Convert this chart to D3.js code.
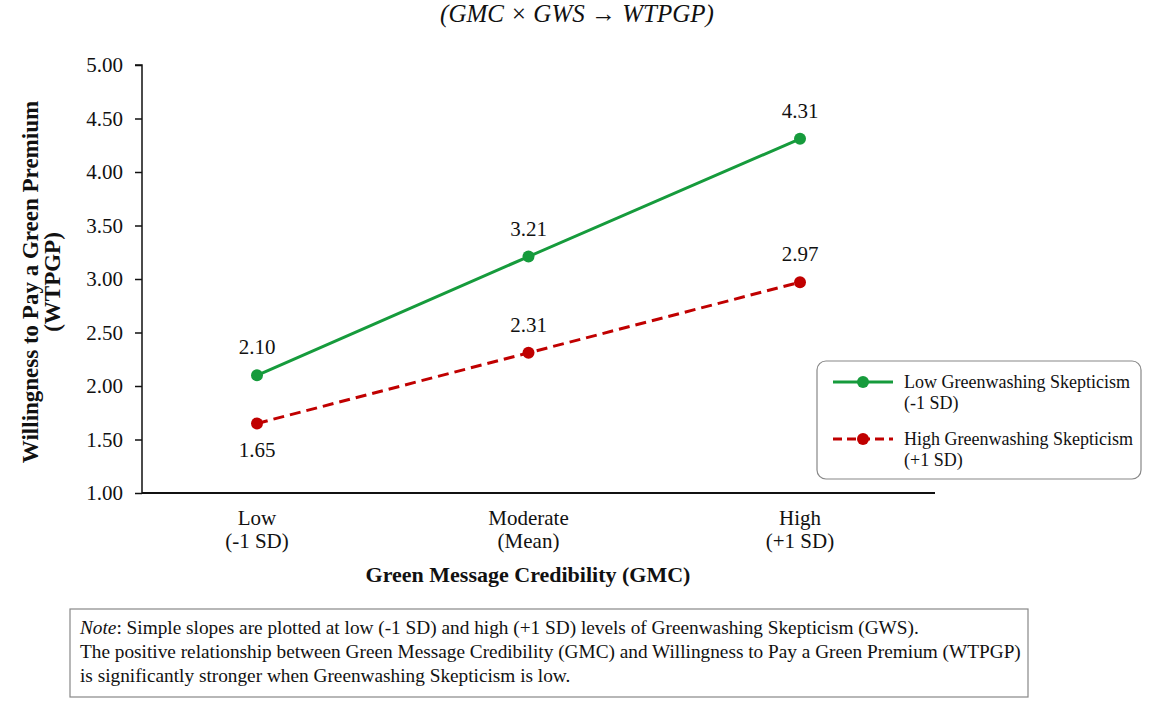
<!DOCTYPE html>
<meta charset="utf-8">
<script src="https://d3js.org/d3.v7.min.js"></script>
<style>
  body { margin: 0; background: #fff; }
  text { font-family: "Liberation Serif", "Times New Roman", serif; fill: #111; }
</style>
<div id="chart"></div>
<script>
  // data
  var categories = ["Low\n(-1 SD)", "Moderate\n(Mean)", "High\n(+1 SD)"];
  var lowGWS = [2.10, 3.21, 4.31];
  var highGWS = [1.65, 2.31, 2.97];
  var yTicks = [1.00, 1.50, 2.00, 2.50, 3.00, 3.50, 4.00, 4.50, 5.00];
  var seriesNames = ["Low Greenwashing Skepticism\n(-1 SD)", "High Greenwashing Skepticism\n(+1 SD)"];

  var W = 1153, H = 720;
  var svg = d3.select("#chart").append("svg").attr("width", W).attr("height", H);

  // plot area
  var plotL = 142, plotR = 935, plotT = 65, plotB = 493;

  var x = d3.scalePoint().domain(d3.range(categories.length)).range([257, 800]);
  var y = d3.scaleLinear().domain([1, 5]).range([plotB, plotT]);

  // title
  svg.append("text")
    .attr("x", 577).attr("y", 22)
    .attr("text-anchor", "middle")
    .style("font-size", "25px").style("font-style", "italic")
    .text("(GMC \u00d7 GWS \u2192 WTPGP)");

  // y axis
  var yAxis = svg.append("g")
    .attr("transform", "translate(" + plotL + ",0)")
    .call(d3.axisLeft(y).tickValues(yTicks).tickFormat(d3.format(".2f")).tickSize(7).tickPadding(12));
  yAxis.selectAll("text").style("font-size", "21px").attr("fill", "#111");
  yAxis.selectAll("line, path").attr("stroke", "#111").attr("stroke-width", 1.5);
  yAxis.select(".domain").attr("d", "M-7," + plotT + "H0V" + plotB);

  // x axis line
  svg.append("line")
    .attr("x1", plotL).attr("x2", plotR)
    .attr("y1", plotB).attr("y2", plotB)
    .attr("stroke", "#111").attr("stroke-width", 1.8);

  // x category labels
  categories.forEach(function(c, i) {
    var t = svg.append("text")
      .attr("x", x(i)).attr("y", 525)
      .attr("text-anchor", "middle")
      .style("font-size", "21px");
    c.split("\n").forEach(function(line, j) {
      t.append("tspan").attr("x", x(i)).attr("dy", j ? 23 : 0).text(line);
    });
  });

  // axis titles
  svg.append("text")
    .attr("x", 528).attr("y", 582)
    .attr("text-anchor", "middle")
    .style("font-size", "22px").style("font-weight", "bold")
    .text("Green Message Credibility (GMC)");

  var yt = svg.append("text")
    .attr("transform", "translate(38,282) rotate(-90)")
    .attr("text-anchor", "middle")
    .style("font-size", "23px").style("font-weight", "bold");
  yt.append("tspan").attr("x", 0).attr("dy", 0).text("Willingness to Pay a Green Premium");
  yt.append("tspan").attr("x", 0).attr("dy", 22).text("(WTPGP)");

  var line = d3.line().x(function(d, i) { return x(i); }).y(function(d) { return y(d); });

  var series = [
    { values: lowGWS, color: "#169b3c", dash: null },
    { values: highGWS, color: "#c00000", dash: "11,6" }
  ];

  series.forEach(function(s, k) {
    svg.append("path")
      .datum(s.values)
      .attr("d", line)
      .attr("fill", "none")
      .attr("stroke", s.color)
      .attr("stroke-width", 3)
      .attr("stroke-dasharray", s.dash);

    svg.selectAll(".pt" + k)
      .data(s.values)
      .enter().append("circle")
      .attr("cx", function(d, i) { return x(i); })
      .attr("cy", function(d) { return y(d); })
      .attr("r", 6)
      .attr("fill", s.color);

    svg.selectAll(".lbl" + k)
      .data(s.values)
      .enter().append("text")
      .attr("x", function(d, i) { return x(i); })
      .attr("y", function(d, i) {
        // red series: first label below the point, the rest above
        var dy = (k === 1 && i === 0) ? 34 : -21;
        return y(d) + dy;
      })
      .attr("text-anchor", "middle")
      .style("font-size", "21px")
      .text(function(d) { return d.toFixed(2); });
  });

  // legend
  var lg = svg.append("g").attr("transform", "translate(817,361)");
  lg.append("rect")
    .attr("width", 324).attr("height", 118)
    .attr("rx", 9).attr("ry", 9)
    .attr("fill", "#fff").attr("stroke", "#888").attr("stroke-width", 1.2);

  series.forEach(function(s, k) {
    var gy = 21 + k * 57;
    lg.append("line")
      .attr("x1", 16).attr("x2", 76).attr("y1", gy).attr("y2", gy)
      .attr("stroke", s.color).attr("stroke-width", 3)
      .attr("stroke-dasharray", s.dash ? "9,5" : null);
    lg.append("circle").attr("cx", 46).attr("cy", gy).attr("r", 6).attr("fill", s.color);
    var t = lg.append("text").attr("x", 87).attr("y", gy + 6).style("font-size", "18px");
    seriesNames[k].split("\n").forEach(function(l, j) {
      t.append("tspan").attr("x", 87).attr("dy", j ? 21 : 0).text(l);
    });
  });

  // note box
  var nb = svg.append("g").attr("transform", "translate(70,609)");
  nb.append("rect")
    .attr("width", 958).attr("height", 88)
    .attr("fill", "#fff").attr("stroke", "#888").attr("stroke-width", 1.2);
  var n1 = nb.append("text").attr("x", 10).attr("y", 25).style("font-size", "19.3px");
  n1.append("tspan").style("font-style", "italic").text("Note");
  n1.append("tspan").text(": Simple slopes are plotted at low (-1 SD) and high (+1 SD) levels of Greenwashing Skepticism (GWS).");
  nb.append("text").attr("x", 10).attr("y", 49).style("font-size", "19.3px")
    .text("The positive relationship between Green Message Credibility (GMC) and Willingness to Pay a Green Premium (WTPGP)");
  nb.append("text").attr("x", 10).attr("y", 73).style("font-size", "19.3px")
    .text("is significantly stronger when Greenwashing Skepticism is low.");
</script>
